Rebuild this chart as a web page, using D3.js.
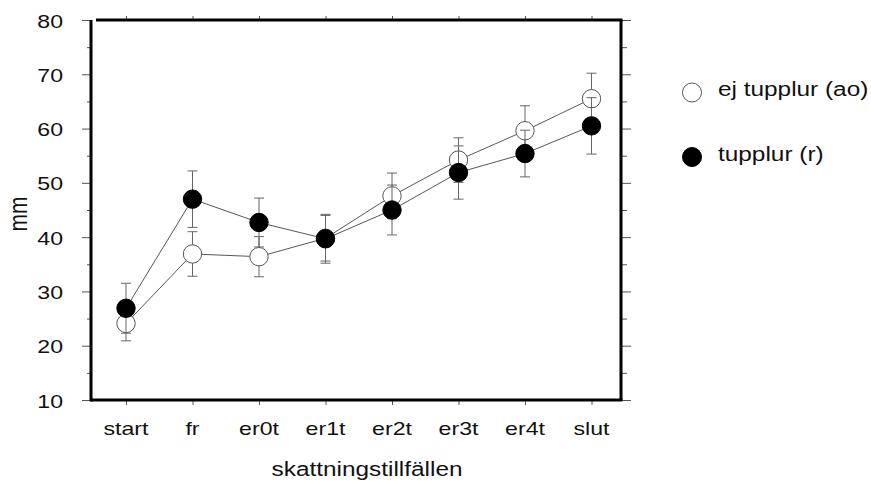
<!DOCTYPE html>
<html>
<head>
<meta charset="utf-8">
<script src="https://cdn.jsdelivr.net/npm/d3@7"></script>
<style>
  body { margin: 0; background: #fff; }
  svg { display: block; }
  text { font-family: "Liberation Sans", Arial, sans-serif; fill: #111; }
</style>
</head>
<body>
<div id="chart"></div>
<script>
const categories = ['start', 'fr', 'er0t', 'er1t', 'er2t', 'er3t', 'er4t', 'slut'];
const ejMean = [24.1, 36.9, 36.4, 39.8, 47.6, 54.2, 59.6, 65.5];
const ejErr = [3.2, 4.1, 3.7, 4.2, 4.2, 4.1, 4.6, 4.7];
const tupMean = [26.9, 47.0, 42.7, 39.7, 45.0, 51.9, 55.4, 60.5];
const tupErr = [4.6, 5.2, 4.5, 4.5, 4.6, 4.9, 4.3, 5.2];
const yMajor = [10, 20, 30, 40, 50, 60, 70, 80];
const yMinor = [15, 25, 35, 45, 55, 65, 75];
const legendLabels = ['ej tupplur (ao)', 'tupplur (r)'];

const W = 871, H = 484;
const pLeft = 91, pRight = 621, pTop = 20, pBottom = 400;
const stretch = 1.25; // glyphs in the original are drawn wide

const svg = d3.select('#chart').append('svg')
  .attr('width', W)
  .attr('height', H);

const x = d3.scalePoint().domain(categories).range([126, 591.5]);
const y = d3.scaleLinear().domain([10, 80]).range([pBottom, pTop]);

function label(g, px, py, str, size, anchor) {
  return g.append('text')
    .attr('transform', 'translate(' + px + ',' + py + ') scale(' + stretch + ',1)')
    .attr('text-anchor', anchor)
    .attr('font-size', size + 'px')
    .text(str);
}

// ticks
function styleAxis(g) {
  g.select('.domain').remove();
  g.selectAll('.tick line').attr('stroke', '#555');
}
svg.append('g').attr('transform', 'translate(' + pLeft + ',0)')
  .call(d3.axisLeft(y).tickValues(yMajor).tickSize(9).tickFormat('')).call(styleAxis);
svg.append('g').attr('transform', 'translate(' + pLeft + ',0)')
  .call(d3.axisLeft(y).tickValues(yMinor).tickSize(4).tickFormat('')).call(styleAxis);
svg.append('g').attr('transform', 'translate(' + pRight + ',0)')
  .call(d3.axisRight(y).tickValues(yMajor).tickSize(10).tickFormat('')).call(styleAxis);
svg.append('g').attr('transform', 'translate(' + pRight + ',0)')
  .call(d3.axisRight(y).tickValues(yMinor).tickSize(6).tickFormat('')).call(styleAxis);
svg.append('g').attr('transform', 'translate(0,' + pBottom + ')')
  .call(d3.axisBottom(x).tickSize(5).tickFormat('')).call(styleAxis);
svg.append('g').attr('transform', 'translate(0,' + pTop + ')')
  .call(d3.axisTop(x).tickSize(4).tickFormat('')).call(styleAxis);

// frame
const frame = svg.append('g').attr('stroke', '#000').attr('stroke-width', 3);
frame.append('line').attr('x1', pLeft).attr('x2', pLeft).attr('y1', pTop).attr('y2', pBottom + 1.5);
frame.append('line').attr('x1', pLeft).attr('x2', pRight + 1.5).attr('y1', pBottom).attr('y2', pBottom);
frame.append('line').attr('x1', pRight).attr('x2', pRight).attr('y1', pTop).attr('y2', pBottom);
frame.append('line').attr('x1', pLeft + 5).attr('x2', pRight + 1.5).attr('y1', pTop).attr('y2', pTop);

// tick labels
const yl = svg.append('g');
yMajor.forEach(v => label(yl, 63, y(v) + 7.5, v, 18.5, 'end'));
const xl = svg.append('g');
categories.forEach(c => label(xl, x(c), 435, c, 18.5, 'middle'));

// axis titles
label(svg, 367, 476, 'skattningstillfällen', 19.5, 'middle');
svg.append('text')
  .attr('transform', 'translate(27,214) scale(' + stretch + ',1) rotate(-90)')
  .attr('text-anchor', 'middle')
  .attr('font-size', '21px')
  .text('mm');

// series
const series = [
  { mean: ejMean, err: ejErr, fill: '#fff' },
  { mean: tupMean, err: tupErr, fill: '#000' }
];
const line = d3.line().x((d, i) => x(categories[i])).y(d => y(d));
const cap = 5;

series.forEach(s => {
  const g = svg.append('g');
  const bars = g.append('g').attr('stroke', '#666').attr('stroke-width', 1);
  s.mean.forEach((m, i) => {
    const cx = x(categories[i]);
    bars.append('line').attr('x1', cx).attr('x2', cx)
      .attr('y1', y(m - s.err[i])).attr('y2', y(m + s.err[i]));
    bars.append('line').attr('x1', cx - cap).attr('x2', cx + cap)
      .attr('y1', y(m + s.err[i])).attr('y2', y(m + s.err[i]));
    bars.append('line').attr('x1', cx - cap).attr('x2', cx + cap)
      .attr('y1', y(m - s.err[i])).attr('y2', y(m - s.err[i]));
  });
  g.append('path').datum(s.mean)
    .attr('d', line)
    .attr('fill', 'none')
    .attr('stroke', '#444')
    .attr('stroke-width', 0.9);
  g.selectAll('circle').data(s.mean).join('circle')
    .attr('cx', (d, i) => x(categories[i]))
    .attr('cy', d => y(d))
    .attr('r', 9.2)
    .attr('fill', s.fill)
    .attr('stroke', s.fill === '#000' ? '#000' : '#555')
    .attr('stroke-width', 1);
});

// legend
const legend = svg.append('g');
legendLabels.forEach((t, i) => {
  const ly = 92.5 + i * 64.5;
  legend.append('circle')
    .attr('cx', 692).attr('cy', ly).attr('r', 9.5)
    .attr('fill', series[i].fill)
    .attr('stroke', i === 0 ? '#555' : '#000');
  label(legend, 718, ly + 3.8, t, 19.5, 'start');
});
</script>
</body>
</html>
